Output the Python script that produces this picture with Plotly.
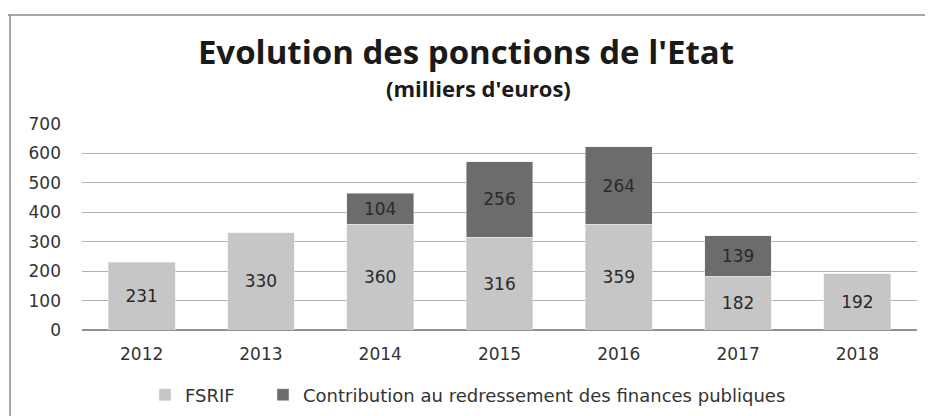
import plotly.graph_objects as go

years = ["2012", "2013", "2014", "2015", "2016", "2017", "2018"]
fsrif = [231, 330, 360, 316, 359, 182, 192]
contribution = [None, None, 104, 256, 264, 139, None]
y_ticks = [0, 100, 200, 300, 400, 500, 600, 700]

TFONT = "Open Sans"
FONT = "DejaVu Sans"

# page renders with an 8px body offset; compensate
OFF = 8
L, R, T, B = 82 - OFF, 933 - (917 - OFF), 124 - OFF, 416 - (330 - OFF)
PH = 416 - T - B
PW = 933 - L - R

fig = go.Figure()
fig.add_trace(go.Bar(
    x=years, y=fsrif, name="FSRIF", legend="legend",
    marker=dict(color="#c6c6c6"),
    text=[str(v) for v in fsrif], textposition="inside",
    insidetextanchor="middle", constraintext="none",
    textfont=dict(family=FONT, size=17, color="#2a2a2a"),
))
fig.add_trace(go.Bar(
    x=years, y=contribution, name="Contribution au redressement des finances publiques",
    legend="legend2",
    marker=dict(color="#6c6c6c"),
    text=[str(v) if v is not None else "" for v in contribution], textposition="inside",
    insidetextanchor="middle", constraintext="none",
    textfont=dict(family=FONT, size=17, color="#2a2a2a"),
))

leg_common = dict(orientation="h", y=-65 / PH, yanchor="middle", xanchor="left",
                  font=dict(family=FONT, size=18, color="#333333"), itemwidth=30,
                  bgcolor="rgba(0,0,0,0)")

fig.update_layout(
    barmode="stack",
    bargap=0.44,
    width=933, height=416,
    margin=dict(l=L, r=R, t=T, b=B, autoexpand=False),
    paper_bgcolor="white", plot_bgcolor="white",
    font=dict(family=FONT, color="#333333"),
    title=dict(text="<b>Evolution des ponctions de l'Etat</b>",
               x=(466 - OFF) / 933, xanchor="center", y=1 - (52 - OFF) / 416, yanchor="middle",
               font=dict(family=TFONT, size=33, color="#1a1a1a")),
    showlegend=True,
    legend=dict(x=(145 - 82) / PW, **leg_common),
    legend2=dict(x=(263 - 82) / PW, **leg_common),
    hovermode=False,
)
fig.add_annotation(text="<b>(milliers d'euros)</b>", xref="paper", yref="paper",
                   x=(478 - 82) / PW, y=(330 - 88) / PH, xanchor="center", yanchor="middle",
                   showarrow=False, font=dict(family=TFONT, size=22, color="#1a1a1a"))

fig.update_yaxes(range=[0, 700], tickvals=y_ticks, showgrid=True, gridcolor="#b0b0b0",
                 gridwidth=1, zeroline=True, zerolinecolor="#909090",
                 tickfont=dict(family=FONT, size=17, color="#333333"), ticks="", ticklen=0,
                 ticklabelstandoff=20, showline=False, automargin=False)
fig.update_xaxes(tickfont=dict(family=FONT, size=17, color="#333333"), showline=False,
                 ticks="", ticklabelstandoff=12, automargin=False)

# frame lines as in the scan
fig.add_shape(type="line", xref="paper", yref="paper",
              x0=-L / PW, x1=1 + R / PW, y0=(330 - 15) / PH, y1=(330 - 15) / PH,
              line=dict(color="#8a8a8a", width=1.5))
fig.add_shape(type="line", xref="paper", yref="paper",
              x0=-(82 - 10) / PW, x1=-(82 - 10) / PW, y0=(330 - 15) / PH, y1=-B / PH,
              line=dict(color="#8a8a8a", width=1.5))

fig.write_html("out.html")
